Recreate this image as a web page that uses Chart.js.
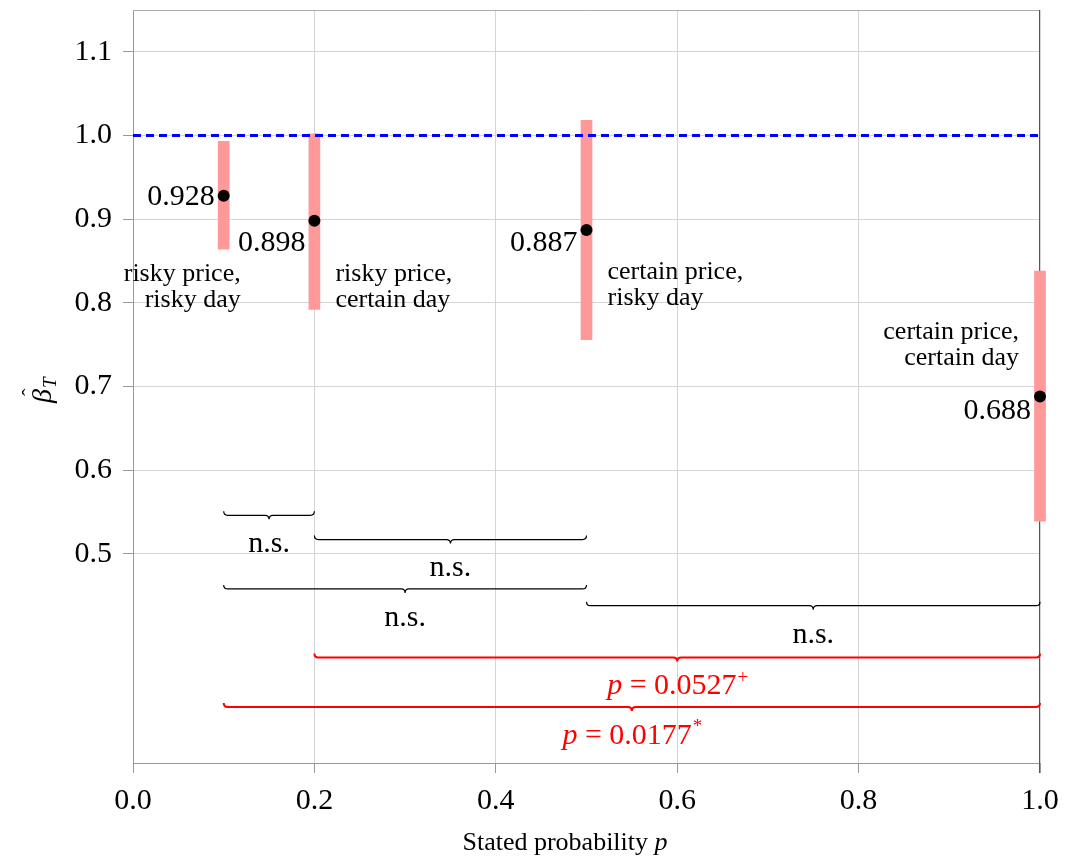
<!DOCTYPE html>
<html>
<head>
<meta charset="utf-8">
<script src="https://cdn.jsdelivr.net/npm/chart.js@4"></script>
<style>
  body { margin: 0; background: #fff; }
  #chart { display: block; }
</style>
</head>
<body>
<canvas id="chart" width="1065" height="863"></canvas>
<script>
// DATA

const probs = [0.1, 0.2, 0.5, 1.0];
const betas = [0.928, 0.898, 0.887, 0.688];
const ciLow = [0.864, 0.792, 0.756, 0.539];
const ciHigh = [0.993, 1.002, 1.018, 0.838];
const groupNames = [
  ['risky price,', 'risky day'],
  ['risky price,', 'certain day'],
  ['certain price,', 'risky day'],
  ['certain price,', 'certain day']
];
const refLevel = 1.0;
const yTicks = [0.5, 0.6, 0.7, 0.8, 0.9, 1.0, 1.1];

// pairwise tests (brace from / to, p-value or n.s.)
const braceFrom = [0.1, 0.2, 0.1, 0.5, 0.2, 0.1];
const braceTo = [0.2, 0.5, 0.5, 1.0, 1.0, 1.0];
const braceP = [null, null, null, null, '0.0527', '0.0177'];
const braceMark = ['', '', '', '', '+', '*'];

// LAYOUT

const FONT = "'Liberation Serif', 'DejaVu Serif', serif";
const braceRows = [0.546, 0.517, 0.458, 0.438, 0.376, 0.317];
const valueDy = [1, 22, 13, 15];
const groupPos = [
  {align: 'right', dx: 17, dy: 78},
  {align: 'left', dx: 21, dy: 53},
  {align: 'left', dx: 21, dy: 42},
  {align: 'right', dx: -21, dy: -64}
];

function drawBrace(c, x0, x1, y, r) {
  const xm = (x0 + x1) / 2;
  c.beginPath();
  c.moveTo(x0, y - r);
  c.quadraticCurveTo(x0, y, x0 + r, y);
  c.lineTo(xm - r, y);
  c.quadraticCurveTo(xm, y, xm, y + r);
  c.quadraticCurveTo(xm, y, xm + r, y);
  c.lineTo(x1 - r, y);
  c.quadraticCurveTo(x1, y, x1, y - r);
  c.stroke();
}

const annotations = {
  id: 'annotations',
  beforeDatasetsDraw(chart) {
    const c = chart.ctx;
    const area = chart.chartArea;
    c.save();
    c.lineWidth = 1;
    c.strokeStyle = '#aaaaaa';
    c.beginPath(); c.moveTo(area.left, area.top + 0.5); c.lineTo(area.right, area.top + 0.5); c.stroke();
    c.strokeStyle = '#555555';
    c.beginPath(); c.moveTo(area.right - 0.5, area.top); c.lineTo(area.right - 0.5, area.bottom + 10); c.stroke();
    c.restore();
  },
  afterDatasetsDraw(chart) {
    const c = chart.ctx;
    const xs = chart.scales.x, ys = chart.scales.y;
    c.save();

    c.textBaseline = 'middle';
    c.fillStyle = '#000';

    // value labels
    c.font = '30px ' + FONT;
    c.textAlign = 'right';
    betas.forEach((b, i) => {
      const px = xs.getPixelForValue(probs[i]);
      const py = ys.getPixelForValue(b);
      c.fillText(b.toFixed(3), px - 9, py + valueDy[i]);
    });

    // group names
    c.font = '26px ' + FONT;
    groupNames.forEach((lines, i) => {
      const px = xs.getPixelForValue(probs[i]);
      const py = ys.getPixelForValue(betas[i]);
      const g = groupPos[i];
      c.textAlign = g.align;
      lines.forEach((t, k) => c.fillText(t, px + g.dx, py + g.dy + k * 26));
    });

    // braces
    braceFrom.forEach((f, i) => {
      const x0 = xs.getPixelForValue(f);
      const x1 = xs.getPixelForValue(braceTo[i]);
      const y = ys.getPixelForValue(braceRows[i]);
      const sig = braceP[i] !== null;
      const col = sig ? '#ff0000' : '#000000';
      c.strokeStyle = col;
      c.fillStyle = col;
      c.lineWidth = sig ? 2 : 1.2;
      drawBrace(c, x0, x1, y, 4);
      const xm = (x0 + x1) / 2;
      const ty = y + 29;
      if (!sig) {
        c.font = '30px ' + FONT;
        c.textAlign = 'center';
        c.fillText('n.s.', xm, ty);
      } else {
        const fi = 'italic 30px ' + FONT, fr = '30px ' + FONT, fs = '19px ' + FONT;
        c.font = fi; const w1 = c.measureText('p').width;
        c.font = fr; const t2 = ' = ' + braceP[i]; const w2 = c.measureText(t2).width;
        c.font = fs; const w3 = c.measureText(braceMark[i]).width;
        let x = xm - (w1 + w2 + w3) / 2;
        c.textAlign = 'left';
        c.font = fi; c.fillText('p', x, ty); x += w1;
        c.font = fr; c.fillText(t2, x, ty); x += w2;
        c.font = fs; c.fillText(braceMark[i], x + 1, ty - 9);
      }
    });

    // axis titles
    c.fillStyle = '#000';
    c.textAlign = 'left';
    c.font = '26px ' + FONT;
    const xt = 'Stated probability ';
    const wA = c.measureText(xt).width;
    c.font = 'italic 26px ' + FONT;
    const wB = c.measureText('p').width;
    const xc = 565;
    c.font = '26px ' + FONT;
    c.fillText(xt, xc - (wA + wB) / 2, 843);
    c.font = 'italic 26px ' + FONT;
    c.fillText('p', xc - (wA + wB) / 2 + wA, 843);

    c.save();
    c.translate(44, 390);
    c.rotate(-Math.PI / 2);
    c.font = 'italic 28px ' + FONT;
    const wb = c.measureText('β').width;
    c.fillText('β', -wb / 2 - 6, 0);
    c.font = '22px ' + FONT;
    c.fillText('ˆ', -wb / 2 + 1, -13);
    c.font = 'italic 19px ' + FONT;
    c.fillText('T', wb / 2 - 5, 7);
    c.restore();

    c.restore();
  }
};

// CHART

const ctx = document.getElementById('chart');

const myChart = new Chart(ctx, {
  data: {
    datasets: [
      {
        type: 'scatter',
        data: probs.map((p, i) => ({x: p, y: betas[i]})),
        pointRadius: 6,
        pointHoverRadius: 6,
        pointBackgroundColor: '#000',
        pointBorderWidth: 0,
        clip: false,
        order: 1
      },
      {
        type: 'line',
        data: [{x: 0, y: refLevel}, {x: 1, y: refLevel}],
        borderColor: '#0000ff',
        borderWidth: 3,
        borderDash: [8, 5],
        pointRadius: 0,
        order: 2
      },
      {
        type: 'bar',
        data: probs.map((p, i) => ({x: p, y: [ciLow[i], ciHigh[i]]})),
        backgroundColor: 'rgb(255,153,153)',
        barThickness: 11,
        borderWidth: 0,
        borderSkipped: false,
        clip: false,
        order: 3
      }
    ]
  },
  options: {
    responsive: false,
    devicePixelRatio: 1,
    animation: false,
    layout: {padding: {top: 10, right: 25, left: 0, bottom: 0}},
    plugins: {legend: {display: false}, tooltip: {enabled: false}},
    scales: {
      x: {
        type: 'linear',
        min: 0,
        max: 1,
        offset: false,
        afterFit: s => { s.height = 100; s.paddingLeft = 0; s.paddingRight = 0; },
        ticks: {
          stepSize: 0.2,
          padding: 10,
          color: '#000',
          font: {family: FONT, size: 30},
          callback: v => v.toFixed(1)
        },
        grid: {offset: false, color: '#d5d5d5', tickColor: '#999', tickLength: 10, lineWidth: 1},
        border: {color: '#999', width: 1}
      },
      y: {
        type: 'linear',
        min: 0.25,
        max: 1.15,
        afterFit: s => { s.width = 133; s.paddingTop = 0; s.paddingBottom = 0; },
        afterBuildTicks: s => { s.ticks = yTicks.map(v => ({value: v})); },
        ticks: {
          padding: 11,
          color: '#000',
          font: {family: FONT, size: 30},
          callback: v => v.toFixed(1)
        },
        grid: {color: '#d5d5d5', tickColor: '#999', tickLength: 10, lineWidth: 1},
        border: {color: '#999', width: 1}
      }
    }
  },
  plugins: [annotations]
});
</script>
</body>
</html>
